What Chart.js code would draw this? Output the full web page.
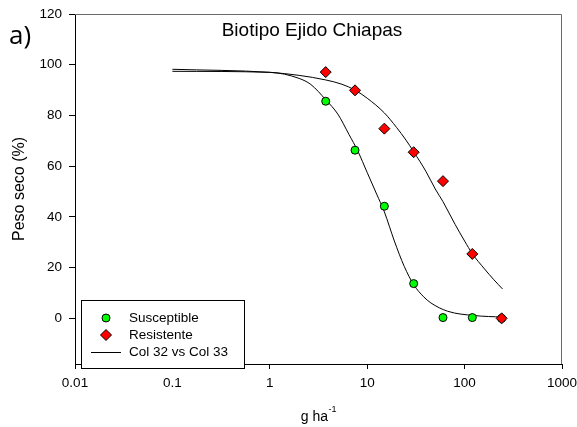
<!DOCTYPE html>
<html><head><meta charset="utf-8">
<script src="https://cdn.jsdelivr.net/npm/chart.js@4.4.0/dist/chart.umd.min.js"></script>
<style>html,body{margin:0;padding:0;background:#fff;}#wrap{width:577px;height:427px;position:relative;}</style>
</head><body><div id="wrap"><canvas id="c" width="577" height="427"></canvas></div>
<script>
// ---- data ----
const doses = [3.75, 7.5, 15, 30, 60, 120, 240];
const susceptible = [85.6, 66.3, 44.2, 13.7, 0.3, 0.3, 0];
const resistente = [97.1, 89.9, 74.8, 65.5, 54.1, 25.4, 0];
const curveSuscX = [0.1, 1, 2, 2.64, 3.75, 5, 6.5, 8, 10, 12.5, 15, 19, 24, 30, 38, 45, 67, 126, 245];
const curveSuscY = [97.4, 97.0, 94.6, 92.2, 86.2, 80.5, 72.5, 66.0, 57.5, 49.0, 42.0, 30.5, 20.5, 13.3, 8.5, 6.1, 2.8, 1.1, 0.5];
const curveResX = [0.1, 1, 2, 3.75, 5.5, 7.5, 10, 15, 20, 25, 30, 40, 50, 60, 80, 100, 120, 160, 200, 245];
const curveResY = [98.2, 97.0, 95.8, 94.0, 92.3, 90.0, 86.8, 81.0, 75.3, 70.3, 65.7, 58.0, 51.0, 46.0, 37.0, 30.5, 25.5, 19.5, 15.2, 11.6];
const xTicks = [0.01, 0.1, 1, 10, 100, 1000];
const xTickLabels = ['0.01', '0.1', '1', '10', '100', '1000'];
const yTicks = [0, 20, 40, 60, 80, 100, 120];
const seriesLabels = ['Susceptible', 'Resistente', 'Col 32 vs Col 33'];
const chartTitle = 'Biotipo Ejido Chiapas';
const panelLabel = 'a)';
const yTitle = 'Peso seco (%)';
const xTitleMain = 'g ha';
const xTitleSup = '-1';

const FONT = "'Liberation Sans', Arial, sans-serif";
const pts = (xs, ys) => xs.map((x, i) => ({x: x, y: ys[i]}));

const framePlugin = {
  id: 'frame',
  beforeDatasetsDraw(chart) {
    const a = chart.chartArea, c = chart.ctx;
    c.save();
    c.strokeStyle = '#6a6a6a'; c.lineWidth = 1;
    c.beginPath();
    c.moveTo(a.left, Math.round(a.top) + 0.5);
    c.lineTo(Math.round(a.right) - 0.5, Math.round(a.top) + 0.5);
    c.lineTo(Math.round(a.right) - 0.5, a.bottom);
    c.stroke();
    c.restore();
  }
};

const textPlugin = {
  id: 'texts',
  afterDraw(chart) {
    const c = chart.ctx, a = chart.chartArea;
    c.save();
    c.fillStyle = '#000';
    c.font = '19px ' + FONT;
    c.textAlign = 'center'; c.textBaseline = 'alphabetic';
    c.fillText(chartTitle, 312, 36);
    c.font = "26px 'Open Sans', 'Noto Sans', sans-serif";
    c.textAlign = 'left';
    c.fillText(panelLabel, 9, 44);
    c.font = '14px ' + FONT;
    const wMain = c.measureText(xTitleMain).width;
    c.font = '9px ' + FONT;
    const wSup = c.measureText(xTitleSup).width;
    const cx = (a.left + a.right) / 2;
    const x0 = cx - (wMain + wSup) / 2;
    c.font = '14px ' + FONT;
    c.fillText(xTitleMain, x0, 420.5);
    c.font = '9px ' + FONT;
    c.fillText(xTitleSup, x0 + wMain + 0.5, 412);

    const lx = 81.5, ly = 300.5, lw = 163, lh = 68;
    c.fillStyle = '#fff'; c.fillRect(lx, ly, lw, lh);
    c.strokeStyle = '#000'; c.lineWidth = 1; c.strokeRect(lx, ly, lw, lh);
    const ds = chart.data.datasets;
    const items = [ds[1], ds[0], ds[2]];
    const rows = [318, 335, 352];
    c.font = '13.5px ' + FONT; c.textBaseline = 'middle'; c.textAlign = 'left';
    items.forEach((d, i) => {
      const y = rows[i];
      c.lineWidth = 1; c.strokeStyle = '#000';
      if (d.showLine) {
        c.beginPath(); c.moveTo(91, y + 0.5); c.lineTo(121, y + 0.5); c.stroke();
      } else if (d.pointStyle === 'rectRot') {
        const r = d.pointRadius;
        c.fillStyle = d.backgroundColor;
        c.beginPath(); c.moveTo(106 - r, y); c.lineTo(106, y - r); c.lineTo(106 + r, y); c.lineTo(106, y + r); c.closePath();
        c.fill(); c.stroke();
      } else {
        c.fillStyle = d.backgroundColor;
        c.beginPath(); c.arc(106, y, d.pointRadius, 0, Math.PI * 2); c.fill(); c.stroke();
      }
      c.fillStyle = '#000';
      c.fillText(seriesLabels[i], 129, y + 0.5);
    });
    c.restore();
  }
};

new Chart(document.getElementById('c'), {
  type: 'scatter',
  data: {
    datasets: [
      {label: seriesLabels[1], data: pts(doses, resistente), pointStyle: 'rectRot', pointRadius: 5.5,
       backgroundColor: '#ff0000', borderColor: '#000', borderWidth: 1, order: 0, showLine: false},
      {label: seriesLabels[0], data: pts(doses, susceptible), pointStyle: 'circle', pointRadius: 4,
       backgroundColor: '#00ff00', borderColor: '#000', borderWidth: 1, order: 1, showLine: false},
      {label: seriesLabels[2], data: pts(curveSuscX, curveSuscY), showLine: true, pointRadius: 0,
       borderColor: '#000', borderWidth: 1, fill: false, cubicInterpolationMode: 'monotone', order: 2},
      {label: seriesLabels[2] + ' R', data: pts(curveResX, curveResY), showLine: true, pointRadius: 0,
       borderColor: '#000', borderWidth: 1, fill: false, cubicInterpolationMode: 'monotone', order: 2}
    ]
  },
  options: {
    responsive: false, animation: false, devicePixelRatio: 1,
    layout: {padding: {left: 0, top: 14, right: 15, bottom: 0}},
    plugins: {legend: {display: false}, tooltip: {enabled: false}, title: {display: false}},
    scales: {
      x: {
        type: 'logarithmic', position: 'bottom', min: 0.01, max: 1000,
        afterBuildTicks: s => { s.ticks = xTicks.map(v => ({value: v})); },
        ticks: {callback: (v, i) => xTickLabels[i], font: {family: FONT, size: 13.5}, color: '#000',
                padding: 6, maxRotation: 0, autoSkip: false},
        grid: {drawOnChartArea: false, drawTicks: true, tickLength: 5, tickColor: '#000', tickWidth: 1},
        border: {display: true, color: '#000', width: 1},
        afterFit: s => { s.height = 63; s.paddingLeft = 0; s.paddingRight = 0; }
      },
      y: {
        type: 'linear', min: -18, max: 120,
        afterBuildTicks: s => { s.ticks = yTicks.map(v => ({value: v})); },
        ticks: {font: {family: FONT, size: 13.5}, color: '#000', padding: 7},
        grid: {drawOnChartArea: false, drawTicks: true, tickLength: 6, tickColor: '#000', tickWidth: 1},
        border: {display: true, color: '#000', width: 1},
        title: {display: true, text: yTitle, font: {family: FONT, size: 16}, color: '#000', padding: {top: 10, bottom: 0}},
        afterFit: s => { s.width = 75; s.paddingTop = 0; s.paddingBottom = 0; }
      }
    }
  },
  plugins: [framePlugin, textPlugin]
});
</script></body></html>
